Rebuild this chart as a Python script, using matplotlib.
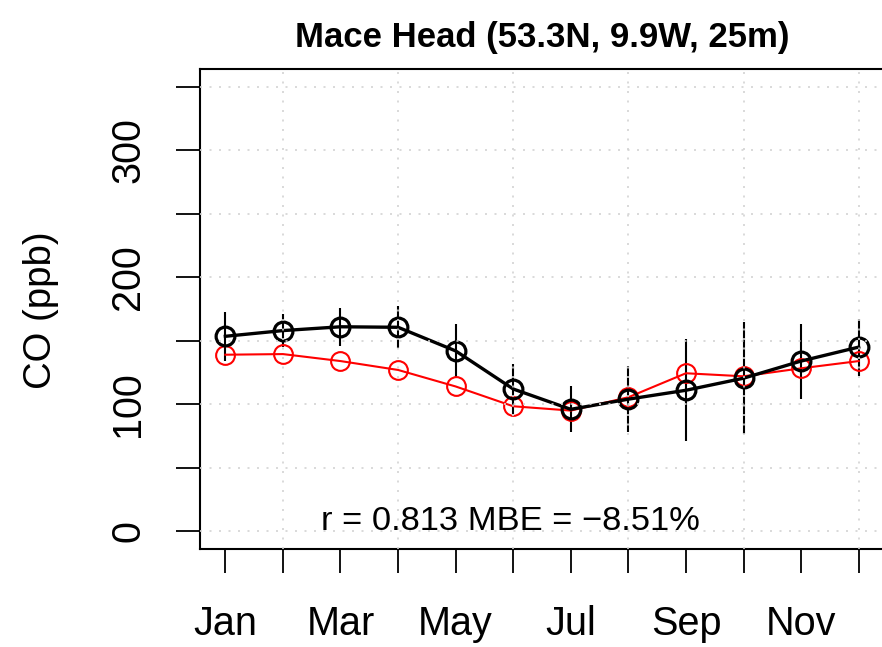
import numpy as np
import matplotlib
matplotlib.use("Agg")
import matplotlib.pyplot as plt

plt.rcParams['font.family'] = ['Liberation Sans', 'DejaVu Sans']

months = np.arange(1, 13)
month_labels = ['Jan', '', 'Mar', '', 'May', '', 'Jul', '', 'Sep', '', 'Nov', '']

# observed (black) monthly means and std dev
obs = [153.5, 158, 161, 160.6, 142, 112, 96, 104, 111, 120.5, 134, 145]
obs_sd = [19.5, 13, 15, 16.6, 21, 20, 18, 26, 40, 44, 29.5, 22.5]
# model (red) monthly means
model = [139, 139.5, 134, 127, 114, 98.4, 95, 105.5, 124.4, 122, 128.3, 134]

title = 'Mace Head (53.3N, 9.9W, 25m)'
stats_text = 'r = 0.813 MBE = \u22128.51%'

fig = plt.figure(figsize=(8.82, 6.47), dpi=100)
ax = fig.add_axes([200/882, 98/647, 684/882, 480/647])

# error bars
ax.vlines(months, np.array(obs) - np.array(obs_sd), np.array(obs) + np.array(obs_sd),
          color='black', lw=1.5, zorder=2)
ax.plot(months, obs, color='black', lw=2.4, marker='o', ms=13.5,
        mfc='none', mec='black', mew=2.3, zorder=2.2)
ax.plot(months, model, color='red', lw=1.5, marker='o', ms=13.5,
        mfc='none', mec='red', mew=1.5, zorder=2.1)

# grid drawn on top (as in R's grid())
for yv in np.arange(0, 351, 50):
    ax.axhline(yv, color='#D3D3D3', lw=1.2, dashes=(1.2, 4.5), zorder=4)
for xv in np.arange(2, 13, 2):
    ax.axvline(xv, color='#D3D3D3', lw=1.2, dashes=(1.2, 4.5), zorder=4)

ax.set_xlim(0.56, 12.44)
ax.set_ylim(-14, 364)

ax.set_yticks(np.arange(0, 351, 50))
ax.set_yticklabels(['0', '', '100', '', '200', '', '300', ''],
                   rotation=90, va='center')
ax.set_xticks(months)
ax.set_xticklabels(month_labels)
ax.tick_params(axis='both', length=17, width=1.3, labelsize=28.5, direction='out')
ax.tick_params(axis='y', pad=21)
ax.tick_params(axis='x', pad=23)

for s in ax.spines.values():
    s.set_linewidth(1.5)

ax.text(5.95, 8, stats_text, ha='center', va='center', fontsize=24.8, zorder=5)

fig.text(542/882, 1 - 37/647, title, ha='center', va='center',
         fontsize=25, fontweight='bold')
fig.text(41/882, 1 - 310/647, 'CO (ppb)', ha='center', va='center',
         rotation=90, fontsize=27.5)

fig.savefig('out.png', dpi=100)
